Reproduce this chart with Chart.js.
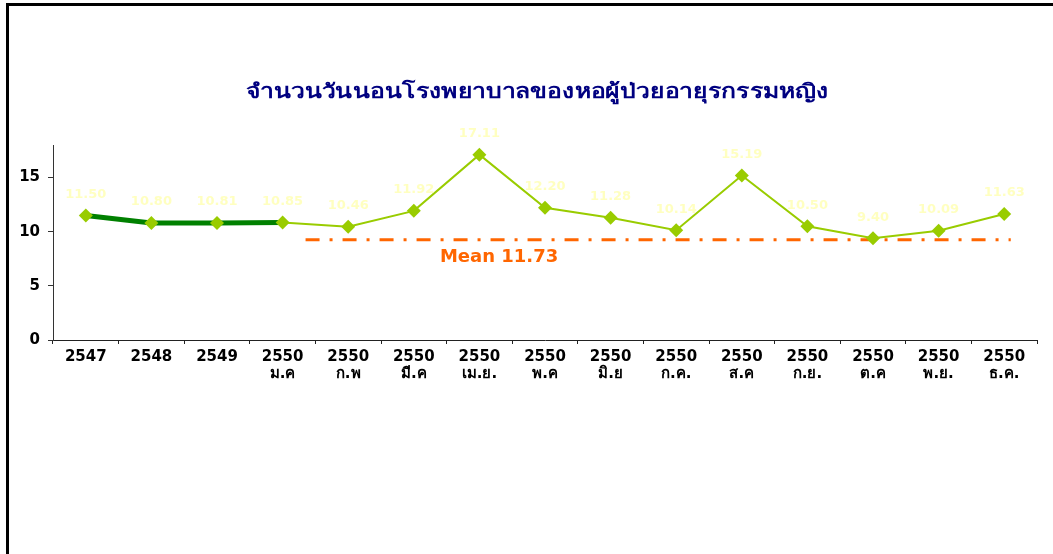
<!DOCTYPE html>
<html>
<head>
<meta charset="utf-8">
<script src="https://cdn.jsdelivr.net/npm/chart.js@4.4.1/dist/chart.umd.min.js"></script>
<style>
  html, body { margin: 0; padding: 0; background: #fff; }
  #wrap { position: relative; width: 1053px; height: 554px; overflow: hidden; }
  #frame { position: absolute; left: 6px; top: 3px; width: 1100px; height: 600px;
           border-left: 3px solid #000; border-top: 3px solid #000; }
  canvas { position: absolute; left: 0; top: 0; }
</style>
</head>
<body>
<div id="wrap">
  <div id="frame"></div>
  <canvas id="chart" width="1053" height="554"></canvas>
</div>
<script>
// ข้อมูล
const years = ["2547", "2548", "2549", "2550", "2550", "2550", "2550", "2550", "2550", "2550", "2550", "2550", "2550", "2550", "2550"];
const months = ["", "", "", "ม.ค", "ก.พ", "มี.ค", "เม.ย.", "พ.ค", "มิ.ย", "ก.ค.", "ส.ค", "ก.ย.", "ต.ค", "พ.ย.", "ธ.ค."];
const stayDays = [11.50, 10.80, 10.81, 10.85, 10.46, 11.92, 17.11, 12.20, 11.28, 10.14, 15.19, 10.50, 9.40, 10.09, 11.63];
const meanX = [3.35, 14.1];
const meanY = [9.25, 9.25];
const meanText = "Mean 11.73";
const yTicks = [0, 5, 10, 15];
const titleText = "จำนวนวันนอนโรงพยาบาลของหอผู้ป่วยอายุรกรรมหญิง";

const yearlyCount = 4; // ช่วงรายปี (เส้นหนา)

const labels = years.map((y, i) => months[i] ? [y, months[i]] : y);

const textPlugin = {
    id: 'texts',
    afterDatasetsDraw(chart) {
        const ctx = chart.ctx;
        const meta = chart.getDatasetMeta(0);
        ctx.save();
        ctx.textAlign = 'center';
        ctx.textBaseline = 'middle';
        // ค่าบนจุด
        ctx.font = 'bold 13px "DejaVu Sans", Verdana, sans-serif';
        ctx.fillStyle = '#ffffc0';
        meta.data.forEach((pt, i) => {
            ctx.fillText(stayDays[i].toFixed(2), pt.x, pt.y - 21);
        });
        // ป้าย Mean
        const x2 = chart.scales.x2, y = chart.scales.y;
        ctx.font = 'bold 18px "DejaVu Sans", Verdana, sans-serif';
        ctx.fillStyle = '#ff6600';
        ctx.fillText(meanText, x2.getPixelForValue(6.3), y.getPixelForValue(meanY[0]) + 18);
        // หัวเรื่อง (ยืดให้กว้างเท่าต้นฉบับ)
        ctx.font = 'bold 20px Tahoma, "DejaVu Sans", sans-serif';
        ctx.fillStyle = '#000080';
        const w = ctx.measureText(titleText).width;
        ctx.translate(537, 93);
        ctx.scale(583 / w, 1);
        ctx.fillText(titleText, 0, 0);
        ctx.restore();
    }
};

const ctx = document.getElementById('chart').getContext('2d');
const chart = new Chart(ctx, {
    type: 'line',
    data: {
        labels: labels,
        datasets: [{
            data: stayDays,
            order: 1,
            borderColor: '#99cc00',
            borderWidth: 2,
            pointStyle: 'rectRot',
            pointRadius: 7,
            pointBackgroundColor: '#99cc00',
            pointBorderColor: '#99cc00',
            pointBorderWidth: 0,
            tension: 0,
            segment: {
                borderColor: c => c.p1DataIndex < yearlyCount ? '#008000' : '#99cc00',
                borderWidth: c => c.p1DataIndex < yearlyCount ? 5 : 2
            }
        }, {
            data: meanX.map((x, i) => ({ x: x, y: meanY[i] })),
            xAxisID: 'x2',
            order: 2,
            borderColor: '#ff6600',
            borderWidth: 3,
            borderDash: [14, 10, 3, 10],
            pointRadius: 0
        }]
    },
    options: {
        responsive: false,
        animation: false,
        layout: { padding: { top: 145, left: 0, right: 16, bottom: 164 } },
        plugins: {
            legend: { display: false },
            tooltip: { enabled: false }
        },
        scales: {
            x: {
                type: 'category',
                offset: true,
                grid: { offset: true, drawOnChartArea: false, tickLength: 4, color: '#222' },
                border: { color: '#222', width: 1 },
                ticks: {
                    autoSkip: false, maxRotation: 0, padding: 4, color: '#000',
                    font: { family: '"DejaVu Sans", Verdana, sans-serif', size: 15, weight: 'bold', lineHeight: 1.15 }
                },
                afterFit: s => { s.height = 50; }
            },
            x2: { type: 'linear', min: -0.5, max: 14.5, display: false },
            y: {
                min: 0, max: 18,
                ticks: {
                    stepSize: 5, padding: 8, color: '#000',
                    font: { family: '"DejaVu Sans", Verdana, sans-serif', size: 15, weight: 'bold' }
                },
                afterBuildTicks: s => { s.ticks = s.ticks.filter(t => yTicks.includes(t.value)); },
                grid: { drawOnChartArea: false, tickLength: 5, color: '#333' },
                border: { color: '#333', width: 1 },
                afterFit: s => { s.width = 53; }
            }
        }
    },
    plugins: [textPlugin]
});
</script>
</body>
</html>
